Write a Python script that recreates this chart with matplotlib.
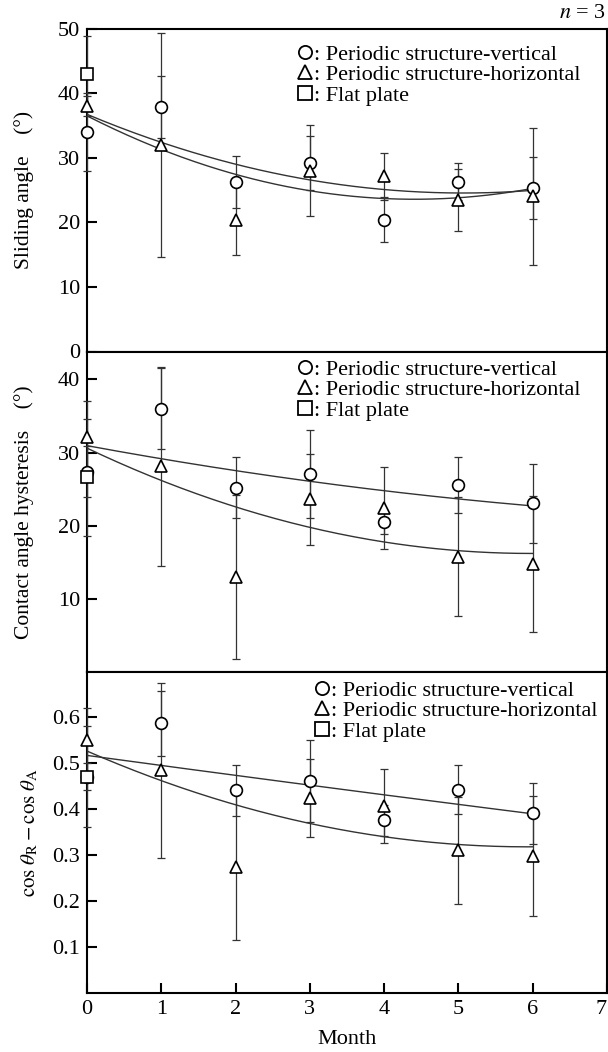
import numpy as np
import matplotlib
matplotlib.use("Agg")
import matplotlib.pyplot as plt
from matplotlib.lines import Line2D

plt.rcParams['font.family'] = ['Liberation Serif', 'DejaVu Serif']
plt.rcParams['mathtext.fontset'] = 'stix'

# ---------------- data ----------------
months = [0, 1, 2, 3, 4, 5, 6]
flat_month = [0]

sliding_vertical = [34.0, 37.8, 26.2, 29.2, 20.4, 26.3, 25.3]
sliding_vertical_err = [6.0, 4.8, 4.0, 4.2, 3.5, 2.9, 4.8]
sliding_horizontal = [38.0, 32.0, 20.3, 28.0, 27.1, 23.4, 24.0]
sliding_horizontal_err = [1.5, 17.3, 5.3, 7.0, 3.7, 4.8, 10.6]
sliding_flat = [43.0]
sliding_flat_err = [5.8]

hysteresis_vertical = [27.4, 36.0, 25.2, 27.1, 20.5, 25.6, 23.1]
hysteresis_vertical_err = [3.5, 5.5, 4.2, 6.0, 1.6, 3.8, 5.4]
hysteresis_horizontal = [32.1, 28.1, 13.0, 23.6, 22.4, 15.8, 14.8]
hysteresis_horizontal_err = [5.0, 13.6, 11.2, 6.2, 5.6, 8.1, 9.3]
hysteresis_flat = [26.6]
hysteresis_flat_err = [8.0]

cos_vertical = [0.47, 0.586, 0.44, 0.461, 0.375, 0.442, 0.39]
cos_vertical_err = [0.03, 0.07, 0.055, 0.089, 0.034, 0.053, 0.067]
cos_horizontal = [0.549, 0.484, 0.274, 0.423, 0.406, 0.31, 0.297]
cos_horizontal_err = [0.07, 0.19, 0.16, 0.085, 0.08, 0.116, 0.13]
cos_flat = [0.47]
cos_flat_err = [0.11]

legend_labels = [': Periodic structure-vertical',
                 ': Periodic structure-horizontal',
                 ': Flat plate']
x_tick_labels = ['0', '1', '2', '3', '4', '5', '6', '7']

# ---------------- figure ----------------
W, H = 608, 1052
fig = plt.figure(figsize=(W / 100, H / 100), dpi=100)

left_px, right_px = 87, 607
panels_px = [(28.5, 351.5), (351.5, 672.3), (672.3, 992.7)]

def make_ax(top, bot):
    return fig.add_axes([left_px / W, 1 - bot / H,
                         (right_px - left_px) / W, (bot - top) / H])

axes = [make_ax(t, b) for t, b in panels_px]

mk = dict(markersize=8.5, markerfacecolor='white', markeredgecolor='black',
          markeredgewidth=1.2, linestyle='none', clip_on=False, zorder=4)
eb = dict(ecolor='#333333', elinewidth=0.9, capsize=3, capthick=0.9)

datasets = [
    (sliding_vertical, sliding_vertical_err, sliding_horizontal,
     sliding_horizontal_err, sliding_flat, sliding_flat_err),
    (hysteresis_vertical, hysteresis_vertical_err, hysteresis_horizontal,
     hysteresis_horizontal_err, hysteresis_flat, hysteresis_flat_err),
    (cos_vertical, cos_vertical_err, cos_horizontal, cos_horizontal_err,
     cos_flat, cos_flat_err),
]

ylims = [(0, 50), (0, 43.8), (0, 0.697)]
yticks = [[0, 10, 20, 30, 40, 50], [10, 20, 30, 40],
          [0.1, 0.2, 0.3, 0.4, 0.5, 0.6]]
ylabels = ['Sliding angle    (°)', 'Contact angle hysteresis    (°)',
           r'$\cos\,\theta_{\rm R} - \cos\,\theta_{\rm A}$']
ylabel_size = [15.5, 15.5, 15]
ylabel_x = [-0.102, -0.102, -0.09]
# legend: (marker centre x px, first-row centre y px from panel top)
legend_px = [(305, 52 - 28.5), (305, 367 - 351.5), (322, 688 - 672.3)]
FS = 16
row_px = FS * 100 / 72

xfit = np.linspace(0, 6, 200)

for i, ax in enumerate(axes):
    v, ve, h, he, f, fe = datasets[i]
    for series in (v, h):
        coef = np.polyfit(months, series, 2)
        ax.plot(xfit, np.polyval(coef, xfit), color='#333333', lw=1.0,
                zorder=2)
    ax.errorbar(months, v, yerr=ve, fmt='none', zorder=3, clip_on=False, **eb)
    ax.errorbar(months, h, yerr=he, fmt='none', zorder=3, clip_on=False, **eb)
    ax.errorbar(flat_month, f, yerr=fe, fmt='none', zorder=3, clip_on=False, **eb)
    ax.plot(months, v, marker='o', **mk)
    ax.plot(months, h, marker='^', **mk)
    ax.plot(flat_month, f, marker='s', **mk)

    ax.set_xlim(0, 7)
    ax.set_ylim(*ylims[i])
    ax.set_yticks(yticks[i])
    if i == 2:
        ax.set_yticklabels(['0.1', '0.2', '0.3', '0.4', '0.5', '0.6'])
    ax.set_xticks(range(0, 8))
    if i < 2:
        ax.tick_params(axis='x', which='both', bottom=False, labelbottom=False)
    else:
        ax.set_xticklabels(x_tick_labels)
    for s in ax.spines.values():
        s.set_linewidth(1.5)
    ax.tick_params(direction='in', length=7, width=1.5, labelsize=FS,
                   top=False, right=False, pad=5)
    ax.set_ylabel(ylabels[i], fontsize=ylabel_size[i])
    ax.yaxis.set_label_coords(ylabel_x[i], 0.5)

    handles = [Line2D([], [], marker=m, markersize=9.5, markerfacecolor='white',
                      markeredgecolor='black', markeredgewidth=1.3,
                      linestyle='none') for m in ('o', '^', 's')]
    handlelen = 0.6
    ax_w = right_px - left_px
    ax_h = panels_px[i][1] - panels_px[i][0]
    lx = (legend_px[i][0] - handlelen * row_px / 2 - left_px) / ax_w
    ly = 1 - (legend_px[i][1] - row_px * 0.58 + 5) / ax_h
    ax.legend(handles, legend_labels, loc='upper left',
              bbox_to_anchor=(lx, ly), frameon=False, fontsize=FS,
              handlelength=handlelen, handletextpad=0.12, labelspacing=0.0,
              borderpad=0, borderaxespad=0)

# keep the last tick label ("7") inside the picture
axes[2].get_xticklabels()[-1].set_horizontalalignment('right')

axes[2].set_xlabel('Month', fontsize=FS, labelpad=8)

fig.text(606 / W, 1 - 14 / H, r'$n$ = 3', ha='right', va='center', fontsize=FS)

fig.savefig('out.png', dpi=100)
